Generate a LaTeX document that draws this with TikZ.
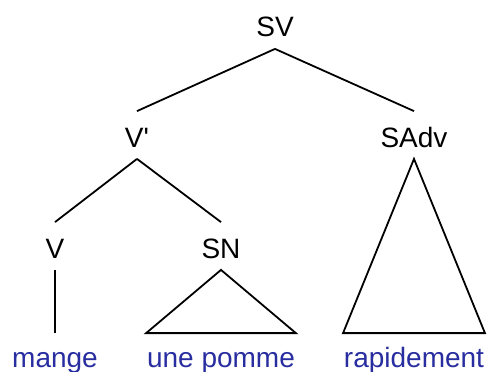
\documentclass[tikz,border=0pt]{standalone}
\usepackage{fontspec}
\setmainfont{Liberation Sans}
\definecolor{wordblue}{RGB}{40,45,160}

\begin{document}
\begin{tikzpicture}[x=1pt,y=-1pt,line width=1.8pt]
  \tikzstyle{cat}=[font=\fontsize{28}{28}\selectfont,anchor=base,
                   text height=24pt,text depth=0pt,inner xsep=2pt,inner ysep=11pt]
  \tikzstyle{word}=[font=\fontsize{28}{28}\selectfont,text=wordblue,anchor=base,
                    text height=33pt,text depth=7pt,inner sep=0pt]
  \useasboundingbox (0,0) rectangle (488,372);

  \node[cat]  (sv)    at (275,37)  {SV};
  \node[cat]  (vbar)  at (137,147) {V\textquotesingle};
  \node[cat]  (sadv)  at (414,147) {SAdv};
  \node[cat]  (v)     at (55,258)  {V};
  \node[cat]  (sn)    at (221,258) {SN};
  \node[word] (mange) at (55,367)  {mange};
  \node[word] (pomme) at (221,367) {une pomme};
  \node[word] (rapid) at (414,367) {rapidement};

  \path (sv.south)   edge (vbar.north)
                     edge (sadv.north);
  \path (vbar.south) edge (v.north)
                     edge (sn.north);
  \path (v.south)    edge (mange.north);

  \draw (sn.south) -- (pomme.north west) -- (pomme.north east) -- cycle;
  \draw (sadv.south) -- (rapid.north west) -- (rapid.north east) -- cycle;

\end{tikzpicture}
\end{document}
